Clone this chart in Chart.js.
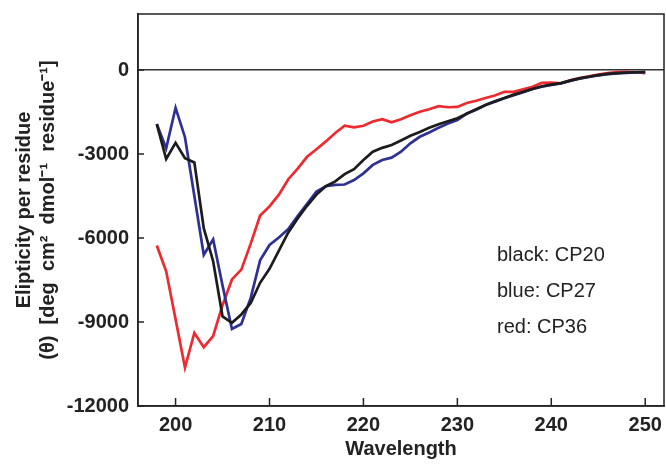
<!DOCTYPE html>
<html>
<head>
<meta charset="utf-8">
<script src="https://cdn.jsdelivr.net/npm/chart.js@4.4.0/dist/chart.umd.min.js"></script>
<style>
  html, body { margin: 0; padding: 0; background: #fff; }
</style>
</head>
<body>
<canvas id="cdChart" width="666" height="465"></canvas>
<script>
// wavelength (nm)
var wavelength = [198, 199, 200, 201, 202, 203, 204, 205, 206, 207, 208, 209, 210,
  211, 212, 213, 214, 215, 216, 217, 218, 219, 220, 221, 222, 223, 224, 225, 226,
  227, 228, 229, 230, 231, 232, 233, 234, 235, 236, 237, 238, 239, 240, 241, 242,
  243, 244, 245, 246, 247, 248, 249, 250];

// CP20 (black)
var cp20 = [-1930, -3180, -2600, -3150, -3300, -5650, -6830, -8800, -9030, -8730,
  -8320, -7600, -7100, -6450, -5800, -5300, -4850, -4450, -4150, -3980, -3720,
  -3540, -3215, -2920, -2780, -2680, -2515, -2350, -2210, -2065, -1935, -1830,
  -1720, -1560, -1400, -1250, -1120, -1000, -880, -780, -680, -580, -520, -470,
  -380, -300, -240, -180, -140, -110, -90, -80, -70];

// CP27 (blue)
var cp27 = [-1930, -2800, -1350, -2400, -4500, -6600, -6050, -7700, -9250, -9070,
  -8140, -6800, -6250, -5980, -5680, -5220, -4780, -4340, -4150, -4100, -4090,
  -3930, -3690, -3390, -3215, -3130, -2920, -2620, -2385, -2230, -2065, -1910,
  -1790, -1555, -1420, -1250, -1130, -1010, -900, -790, -680, -600, -530, -480,
  -390, -310, -250, -190, -150, -120, -100, -90, -80];

// CP36 (red)
var cp36 = [-6265, -7190, -8900, -10630, -9390, -9900, -9500, -8400, -7480, -7130,
  -6200, -5200, -4870, -4450, -3900, -3520, -3100, -2830, -2550, -2250, -1990,
  -2050, -1990, -1840, -1755, -1870, -1760, -1615, -1490, -1400, -1290, -1330,
  -1320, -1180, -1100, -1000, -910, -780, -780, -690, -600, -460, -450, -480,
  -370, -285, -225, -165, -110, -75, -70, -80, -110];

var xTicks = [200, 210, 220, 230, 240, 250];
var yTicks = [-12000, -9000, -6000, -3000, 0];
var legendLabels = ["black: CP20", "blue: CP27", "red: CP36"];

function points(values) {
  return wavelength.map(function (w, i) {
    return { x: w, y: values[i] };
  });
}

var boldFont = { family: "'Liberation Sans', Arial, sans-serif", size: 20, weight: "bold" };

var framePlugin = {
  id: "frame",
  afterDraw: function (chart) {
    var c = chart.ctx;
    var a = chart.chartArea;
    var xs = chart.scales.x;
    var ys = chart.scales.y;
    c.save();
    c.strokeStyle = "#222";
    c.lineWidth = 1.5;
    c.strokeRect(a.left, a.top, a.right - a.left, a.bottom - a.top);
    // inward tick marks
    xs.ticks.forEach(function (t) {
      var px = xs.getPixelForValue(t.value);
      c.beginPath();
      c.moveTo(px, a.bottom);
      c.lineTo(px, a.bottom - 8);
      c.stroke();
    });
    ys.ticks.forEach(function (t) {
      var py = ys.getPixelForValue(t.value);
      c.beginPath();
      c.moveTo(a.left, py);
      c.lineTo(a.left + 6, py);
      c.stroke();
    });
    // text legend
    c.fillStyle = "#222";
    c.font = "20px 'Liberation Sans', Arial, sans-serif";
    c.textBaseline = "alphabetic";
    legendLabels.forEach(function (s, i) {
      c.fillText(s, 497, 261 + i * 36);
    });
    c.restore();
  }
};

var ctx = document.getElementById("cdChart").getContext("2d");
var cdChart = new Chart(ctx, {
  type: "line",
  data: {
    datasets: [
      { label: "CP20", data: points(cp20), borderColor: "#1c1c1c" },
      { label: "CP27", data: points(cp27), borderColor: "#2e3192" },
      { label: "CP36", data: points(cp36), borderColor: "#ed2a30" }
    ]
  },
  options: {
    responsive: false,
    animation: false,
    layout: { padding: { left: 0, top: 14, right: 2, bottom: 0 } },
    elements: {
      point: { radius: 0 },
      line: { borderWidth: 2.7, tension: 0, fill: false }
    },
    plugins: {
      legend: { display: false },
      tooltip: { enabled: false }
    },
    scales: {
      x: {
        type: "linear",
        min: 196,
        max: 252,
        afterFit: function (scale) {
          scale.height = 59;
          scale.paddingLeft = 0;
          scale.paddingRight = 0;
        },
        afterBuildTicks: function (scale) {
          scale.ticks = xTicks.map(function (v) { return { value: v }; });
        },
        grid: { display: false, drawTicks: false },
        border: { display: true, color: "#222", width: 1.5 },
        ticks: { font: boldFont, color: "#222", padding: 7, maxRotation: 0 },
        title: {
          display: true,
          text: "Wavelength",
          font: boldFont,
          color: "#222",
          padding: { top: 0, bottom: 4 }
        }
      },
      y: {
        min: -12000,
        max: 2000,
        afterFit: function (scale) {
          scale.width = 138;
          scale.paddingTop = 0;
          scale.paddingBottom = 0;
        },
        afterBuildTicks: function (scale) {
          scale.ticks = yTicks.map(function (v) { return { value: v }; });
        },
        grid: {
          drawTicks: false,
          color: function (c) { return c.tick && c.tick.value === 0 ? "#333" : "rgba(0,0,0,0)"; },
          lineWidth: 1.5
        },
        border: { display: true, color: "#222", width: 1.5 },
        ticks: {
          font: boldFont,
          color: "#222",
          padding: 9,
          callback: function (v) { return String(v); }
        },
        title: {
          display: true,
          text: ["Elipticity per residue", "(\u03B8)  [deg  cm\u00B2  dmol\u207B\u00B9  residue\u207B\u00B9]"],
          font: boldFont,
          color: "#222",
          padding: { top: 12, bottom: 0 }
        }
      }
    }
  },
  plugins: [framePlugin]
});
</script>
</body>
</html>
